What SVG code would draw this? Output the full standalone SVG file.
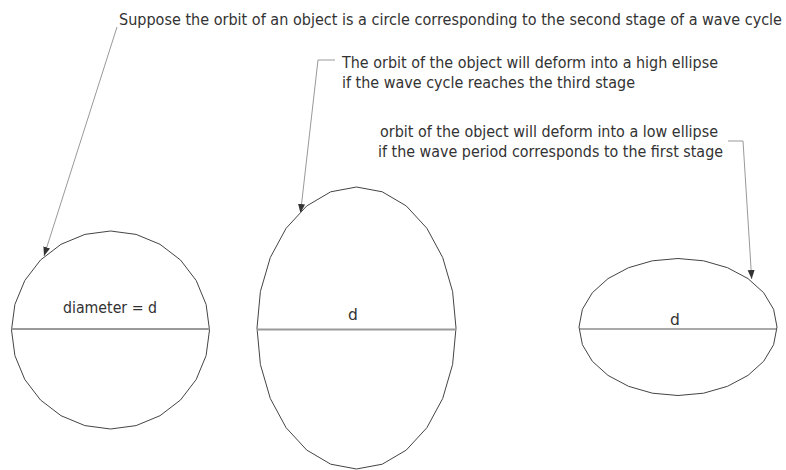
<svg xmlns="http://www.w3.org/2000/svg" width="786" height="470" viewBox="0 0 786 470">
<defs>
<style>
.shape{fill:none;stroke:#444;stroke-width:1;stroke-linejoin:round}
.dia{stroke:#9a9a9a;stroke-width:2}
.dia2{stroke:#555;stroke-width:1.2}
.lead{fill:none;stroke:#999;stroke-width:1}
text{font-family:"DejaVu Sans","Liberation Sans",sans-serif;fill:#333;font-size:15.5px}
</style>
<marker id="arr" markerUnits="userSpaceOnUse" markerWidth="10" markerHeight="8" refX="9" refY="3.5" orient="auto">
<path d="M0,0 L9,3.5 L0,7 Z" fill="#333"/>
</marker>
</defs>
<rect width="786" height="470" fill="#fff"/>
<g id="circle">
<polygon class="shape" points="209.5,330 206.1,304.4 196.2,280.5 180.5,260 160,244.3 136.1,234.4 110.5,231 84.9,234.4 61,244.3 40.5,260 24.8,280.5 14.9,304.4 11.5,330 14.9,355.6 24.8,379.5 40.5,400 61,415.7 84.9,425.6 110.5,429 136.1,425.6 160,415.7 180.5,400 196.2,379.5 206.1,355.6"/>
<line class="dia" x1="11.5" y1="329" x2="209.5" y2="329"/>
<text x="110" y="313" text-anchor="middle" textLength="94" lengthAdjust="spacingAndGlyphs">diameter = d</text>
</g>
<g id="high-ellipse">
<polygon class="shape" points="456,328 452.6,291.5 442.7,257.5 426.9,228.3 406.25,205.9 382.25,191.8 356.5,187 330.75,191.8 306.75,205.9 286.1,228.3 270.3,257.5 260.4,291.5 257,328 260.4,364.5 270.3,398.5 286.1,427.7 306.75,450.1 330.75,464.2 356.5,469 382.25,464.2 406.25,450.1 426.9,427.7 442.7,398.5 452.6,364.5"/>
<line class="dia" x1="257" y1="329.5" x2="456" y2="329.5"/>
<text x="353" y="320" text-anchor="middle">d</text>
</g>
<g id="low-ellipse">
<polygon class="shape" points="777,327 773.6,309.3 763.7,292.75 748,278.6 727.5,267.7 703.6,260.8 678,258.5 652.4,260.8 628.5,267.7 608,278.6 592.3,292.75 582.4,309.3 579,327 582.4,344.7 592.3,361.25 608,375.4 628.5,386.3 652.4,393.2 678,395.5 703.6,393.2 727.5,386.3 748,375.4 763.7,361.25 773.6,344.7"/>
<line class="dia2" x1="579" y1="329" x2="777" y2="329"/>
<text x="675" y="325" text-anchor="middle">d</text>
</g>
<g id="label-circle">
<text x="119" y="25" textLength="663" lengthAdjust="spacingAndGlyphs">Suppose the orbit of an object is a circle corresponding to the second stage of a wave cycle</text>
</g>
<g id="label-high">
<text x="342" y="68" textLength="376" lengthAdjust="spacingAndGlyphs">The orbit of the object will deform into a high ellipse</text>
<text x="342" y="88" textLength="293" lengthAdjust="spacingAndGlyphs">if the wave cycle reaches the third stage</text>
</g>
<g id="label-low">
<text x="380" y="137" textLength="338" lengthAdjust="spacingAndGlyphs">orbit of the object will deform into a low ellipse</text>
<text x="378" y="157" textLength="345" lengthAdjust="spacingAndGlyphs">if the wave period corresponds to the first stage</text>
</g>
<g id="connectors">
<polyline class="lead" points="117,27 44,256" marker-end="url(#arr)"/>
<polyline class="lead" points="335,60 318,60 300.5,213" marker-end="url(#arr)"/>
<polyline class="lead" points="728,141 743,141 751.7,279" marker-end="url(#arr)"/>
</g>
</svg>
